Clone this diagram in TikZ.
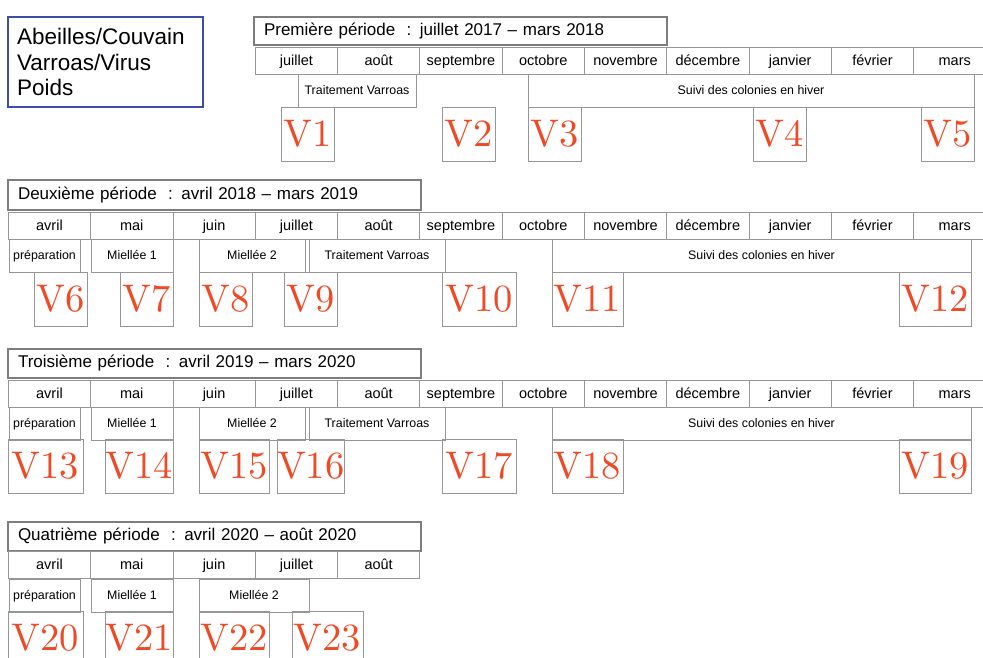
\documentclass[tikz,border=0pt]{standalone}
\usepackage{fontspec}
\setsansfont{Liberation Sans}
\newfontfamily\visitfont{lmroman10-regular}[Extension=.otf]
\usepackage{tikz}
\usetikzlibrary{positioning}

\definecolor{legendblue}{RGB}{62,78,168}
\definecolor{visitred}{RGB}{238,74,38}
\definecolor{framegray}{RGB}{125,125,125}
\definecolor{cellgray}{RGB}{150,150,150}

\tikzset{
  cell/.style={draw=cellgray, line width=0.8pt, inner sep=0pt, outer sep=0pt, anchor=north west},
  month/.style={cell, minimum width=82.3pt, minimum height=27pt, text height=10.4pt, text depth=0pt,
    font=\sffamily\fontsize{14.5}{16}\selectfont},
  act/.style={cell, minimum height=33pt, text height=8.9pt, text depth=0pt, font=\sffamily\fontsize{12.4}{14}\selectfont},
  visit/.style={cell, minimum height=54pt, text=visitred, font=\visitfont\fontsize{38.5}{40}\selectfont},
  titlebox/.style={draw=framegray, line width=2.6pt, inner sep=0pt, inner xsep=10pt, outer sep=0pt, anchor=north west,
    align=left, font=\sffamily\fontsize{17}{20}\selectfont},
  legend/.style={draw=legendblue, line width=2.8pt, inner sep=0pt, inner xsep=9pt, outer sep=0pt, anchor=north west,
    align=left, text width=177pt, minimum height=90pt, font=\sffamily\fontsize{22.5}{25.5}\selectfont}
}

\begin{document}
\begin{tikzpicture}[x=1pt, y=-1pt]
\useasboundingbox (0,0) rectangle (983,658);
\clip (0,0) rectangle (983,658);

\node[legend] (leg) at (8,17) {Abeilles/Couvain\\Varroas/Virus\\Poids};

% periode 1
\node[titlebox, text width=393pt, minimum height=28pt] (t1) at (254,17) {Première période\ \ : juillet 2017 – mars 2018};
\foreach \m [count=\k from 3] in {juillet,août,septembre,octobre,novembre,décembre,janvier,février,mars}
  \node[month] (p1m\k) at ({8.3+82.3*\k},47) {\m};
\node[act, minimum width=118pt] (trait1) at (298,74) {Traitement Varroas};
\node[act, minimum width=446pt] (suivi1) at (528,74) {Suivi des colonies en hiver};

% periodes 2 et 3
\node[titlebox, text width=393pt, minimum height=30pt] (t2) at (8,180) {Deuxième période\ \ : avril 2018 – mars 2019};
\node[titlebox, text width=393pt, minimum height=29pt] (t3) at (8,349) {Troisième période\ \ : avril 2019 – mars 2020};
\foreach \p/\y in {2/212,3/380} {
  \foreach \m [count=\k from 0] in {avril,mai,juin,juillet,août,septembre,octobre,novembre,décembre,janvier,février,mars}
    \node[month] (p\p m\k) at ({8.3+82.3*\k},\y) {\m};
  \node[act, minimum width=71pt] (prep\p) at (9,\y+27) {préparation};
  \node[act, minimum width=82pt] (mielA\p) at (91,\y+27) {Miellée 1};
  \node[act, minimum width=106pt] (mielB\p) at (199,\y+27) {Miellée 2};
  \node[act, minimum width=136pt] (trait\p) at (309,\y+27) {Traitement Varroas};
  \node[act, minimum width=419pt] (suivi\p) at (552,\y+27) {Suivi des colonies en hiver};
}

% periode 4
\node[titlebox, text width=393pt, minimum height=29pt] (t4) at (8,522) {Quatrième période\ \ : avril 2020 – août 2020};
\foreach \m [count=\k from 0] in {avril,mai,juin,juillet,août}
  \node[month] (p4m\k) at ({8.3+82.3*\k},551) {\m};
\node[act, minimum width=71pt] (prep4) at (9,579) {préparation};
\node[act, minimum width=82pt] (mielA4) at (91,579) {Miellée 1};
\node[act, minimum width=110pt] (mielB4) at (199,579) {Miellée 2};

% visites
\foreach \n/\xa/\xb/\y in {1/281/334/107, 2/442/495/107, 3/528/581/107, 4/753/806/107, 5/921/974/107,
    6/34/87/272, 7/120/173/272, 8/199/252/272, 9/284/337/272, 10/442/516/272, 11/552/623/272, 12/899/971/272,
    13/8/83/439, 14/105/173/439, 15/199/269/439, 16/277/344/439, 17/442/516/439, 18/552/623/439, 19/899/971/439,
    20/8/83/611, 21/105/173/611, 22/199/269/611, 23/292/363/611}
  \node[visit, minimum width={(\xb-\xa)*1pt}] (v\n) at (\xa,\y) {V\n};
\end{tikzpicture}
\end{document}
